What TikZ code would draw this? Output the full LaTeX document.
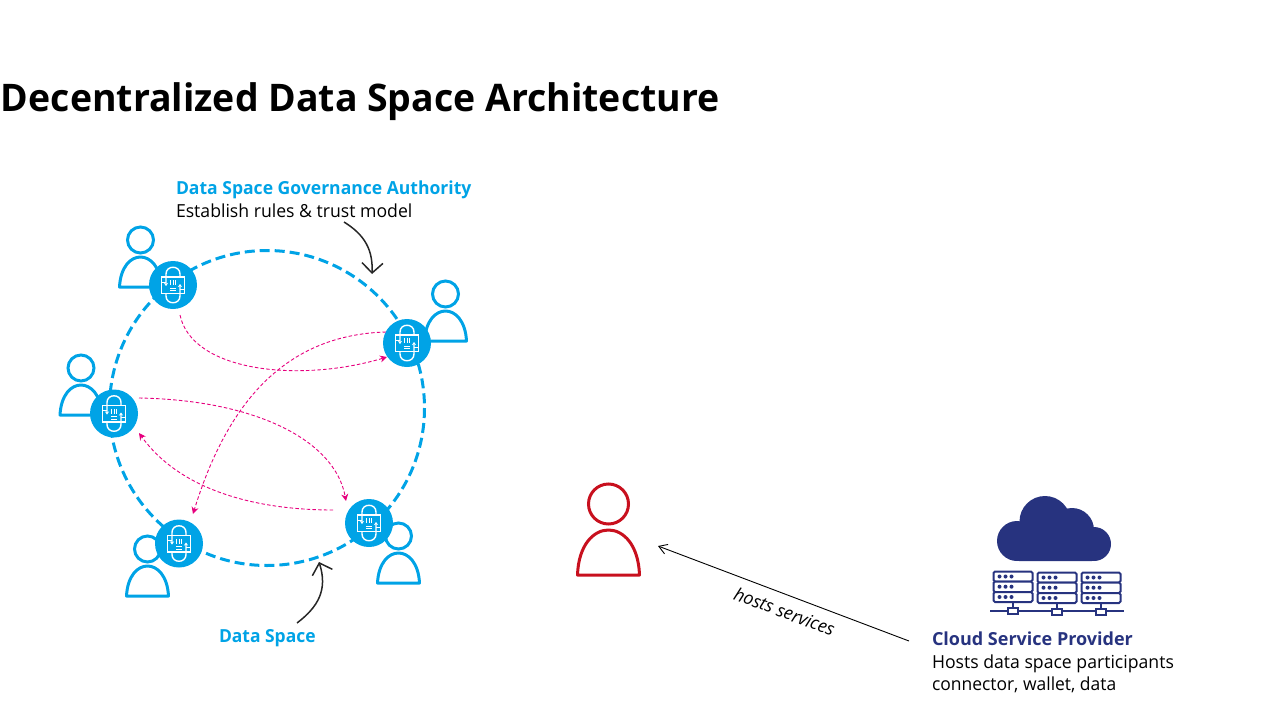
\documentclass[tikz,border=0pt]{standalone}
\usepackage{fontspec}
\setmainfont{Open Sans}
\usetikzlibrary{arrows.meta}
\definecolor{dsblue}{HTML}{00A3E6}
\definecolor{navy}{HTML}{27337F}
\definecolor{pinkarrow}{HTML}{E6007E}
\definecolor{redperson}{HTML}{C8101E}
\tikzset{
  x=1pt,y=-1pt,
  every node/.style={inner sep=0pt,outer sep=0pt,anchor=west,align=left},
  pinkflow/.style={draw=pinkarrow,line width=0.9pt,dash pattern=on 3.5pt off 2.2pt,-{Stealth[length=7pt,width=7pt]}},
  blackcurve/.style={draw=black!85,line width=1.5pt,-{Straight Barb[length=10pt,width=21pt]}},
  pics/person/.style={code={
    \draw[line width=3pt,draw=#1] (0,-47) circle (13);
    \draw[line width=3pt,draw=#1,line join=round] (-21,0) .. controls (-20,-20) and (-10,-30) .. (0,-30) .. controls (10,-30) and (20,-20) .. (21,0) -- cycle;
  }},
  pics/bigperson/.style={code={
    \draw[line width=3pt,draw=#1] (0,-71) circle (20);
    \draw[line width=3pt,draw=#1,line join=round] (-31,0) .. controls (-30,-30) and (-15,-45) .. (0,-45) .. controls (15,-45) and (30,-30) .. (31,0) -- cycle;
  }},
  pics/lockicon/.style={code={
    \fill[dsblue] (0,0) circle (24);
    \draw[white,line width=1.4pt,-{Stealth[length=3pt,width=4pt]}] (7,-8) -- (7,-11) .. controls (7,-20) and (-7,-20) .. (-7,-11) -- (-7,1);
    \draw[white,line width=1.4pt,-{Stealth[length=3pt,width=4pt]}] (-7,8.5) -- (-7,11) .. controls (-7,20) and (7,20) .. (7,11) -- (7,-1);
    \draw[white,line width=1.3pt] (-11.5,-8) rectangle (11.5,8.5);
    \draw[white,line width=1pt] (-11,-3) -- (-7,-3);
    \draw[white,line width=1pt] (11,4) -- (7,4);
    \draw[white,line width=1pt] (-2.5,-5) -- (-2.5,0) (0,-5) -- (0,0) (2.5,-5) -- (2.5,0);
    \draw[white,line width=1pt] (-3,3) -- (3,3) (-3,5.5) -- (3,5.5);
  }},
  pics/rack/.style={code={
    \draw[navy,line width=2pt,rounded corners=1.5pt,fill=white] (0,0) rectangle (39,10);
    \draw[navy,line width=2pt,rounded corners=1.5pt,fill=white] (0,10) rectangle (39,20.5);
    \draw[navy,line width=2pt,rounded corners=1.5pt,fill=white] (0,20.5) rectangle (39,30.5);
    \foreach \yy in {5,15.2,25.5} \foreach \xx in {6,12,18} \fill[navy] (\xx,\yy) circle (2);
    \draw[navy,line width=2pt] (19.5,30.5) -- (19.5,36);
    \draw[navy,line width=2pt,fill=white] (14.5,36) rectangle (24.5,42);
  }}
}
\begin{document}
\begin{tikzpicture}
\useasboundingbox (0,0) rectangle (1280,720);
\node (title) at (1,102) {\fontsize{38}{40}\selectfont\bfseries\scalebox{0.985}[1]{Decentralized Data Space Architecture}};

% anchors for the participants
\coordinate (P1) at (173,285);
\coordinate (P2) at (407,343);
\coordinate (P3) at (114,413.5);
\coordinate (P4) at (179,543.5);
\coordinate (P5) at (369,523);

% data space ring
\coordinate (ringc) at (267,408);
\draw[dsblue,line width=3pt,dash pattern=on 10pt off 5pt] (ringc) circle (157.5);

% people
\pic at (140.5,287) {person=dsblue};
\pic at (445.5,341) {person=dsblue};
\pic at (81,415) {person=dsblue};
\pic at (147.5,596) {person=dsblue};
\pic at (398.5,583) {person=dsblue};

% connectors
\pic at (P1) {lockicon};
\pic at (P2) {lockicon};
\pic at (P3) {lockicon};
\pic at (P4) {lockicon};
\pic at (P5) {lockicon};

% flows
\coordinate (f1a) at (180,315);
\coordinate (f1b) at (387,357);
\coordinate (f2a) at (386,332);
\coordinate (f2b) at (193,514);
\coordinate (f3a) at (139,398);
\coordinate (f3b) at (346,501);
\coordinate (f4a) at (333,510);
\coordinate (f4b) at (139,433);
\draw[pinkflow] (f1a) .. controls (192,372) and (300,383) .. (f1b);
\draw[pinkflow] (f2a) .. controls (280,335) and (225,410) .. (f2b);
\draw[pinkflow] (f3a) .. controls (255,400) and (335,440) .. (f3b);
\draw[pinkflow] (f4a) .. controls (255,510) and (180,490) .. (f4b);

% labels of the ring
\node (gov) at (176,189.5) {\fontsize{18}{20}\selectfont\bfseries\color{dsblue}\scalebox{0.975}[1]{Data Space Governance Authority}};
\node (govsub) at (176,211) {\fontsize{18}{20}\selectfont\scalebox{0.98}[1]{Establish rules \& trust model}};
\coordinate (g1) at (344,222);
\coordinate (g2) at (372,274);
\draw[blackcurve] (g1) .. controls (365,235) and (373,250) .. (g2);
\node (ds) at (219,638) {\fontsize{18}{20}\selectfont\bfseries\color{dsblue}\scalebox{0.97}[1]{Data Space}};
\coordinate (d1) at (297,623);
\coordinate (d2) at (319,562);
\draw[blackcurve] (d1) .. controls (318,607) and (328,590) .. (d2);

% red person
\pic at (608.5,575) {bigperson=redperson};

% provider
\fill[navy] (1017,541) circle (20);
\fill[navy] (1045,521.5) circle (25.5);
\fill[navy] (1072,530) circle (22);
\fill[navy] (1094,544) circle (17);
\fill[navy,rounded corners=2pt] (1017,530) rectangle (1094,561);
\draw[navy,line width=2pt] (990,611) -- (1124,611);
\pic at (993.5,571.5) {rack};
\pic at (1037.5,572.5) {rack};
\pic at (1081.5,572.5) {rack};
\node (csp) at (932,639) {\fontsize{18}{20}\selectfont\bfseries\color{navy}\scalebox{1.0}[1]{Cloud Service Provider}};
\node (csps) at (932,663.5) {\fontsize{18}{20}\selectfont\scalebox{0.98}[1]{Hosts data space participants}};
\node (cspt) at (932,685) {\fontsize{18}{20}\selectfont\scalebox{0.97}[1]{connector, wallet, data}};
\coordinate (h1) at (909,641);
\coordinate (h2) at (658,546);
\draw[black,line width=0.9pt,-{Straight Barb[length=8pt,width=10pt]}] (h1) -- (h2);
\node[anchor=center,rotate=-20.7] (hs) at (784.5,611.5) {\fontsize{18}{20}\selectfont\itshape\scalebox{0.98}[1]{hosts services}};
\end{tikzpicture}
\end{document}
